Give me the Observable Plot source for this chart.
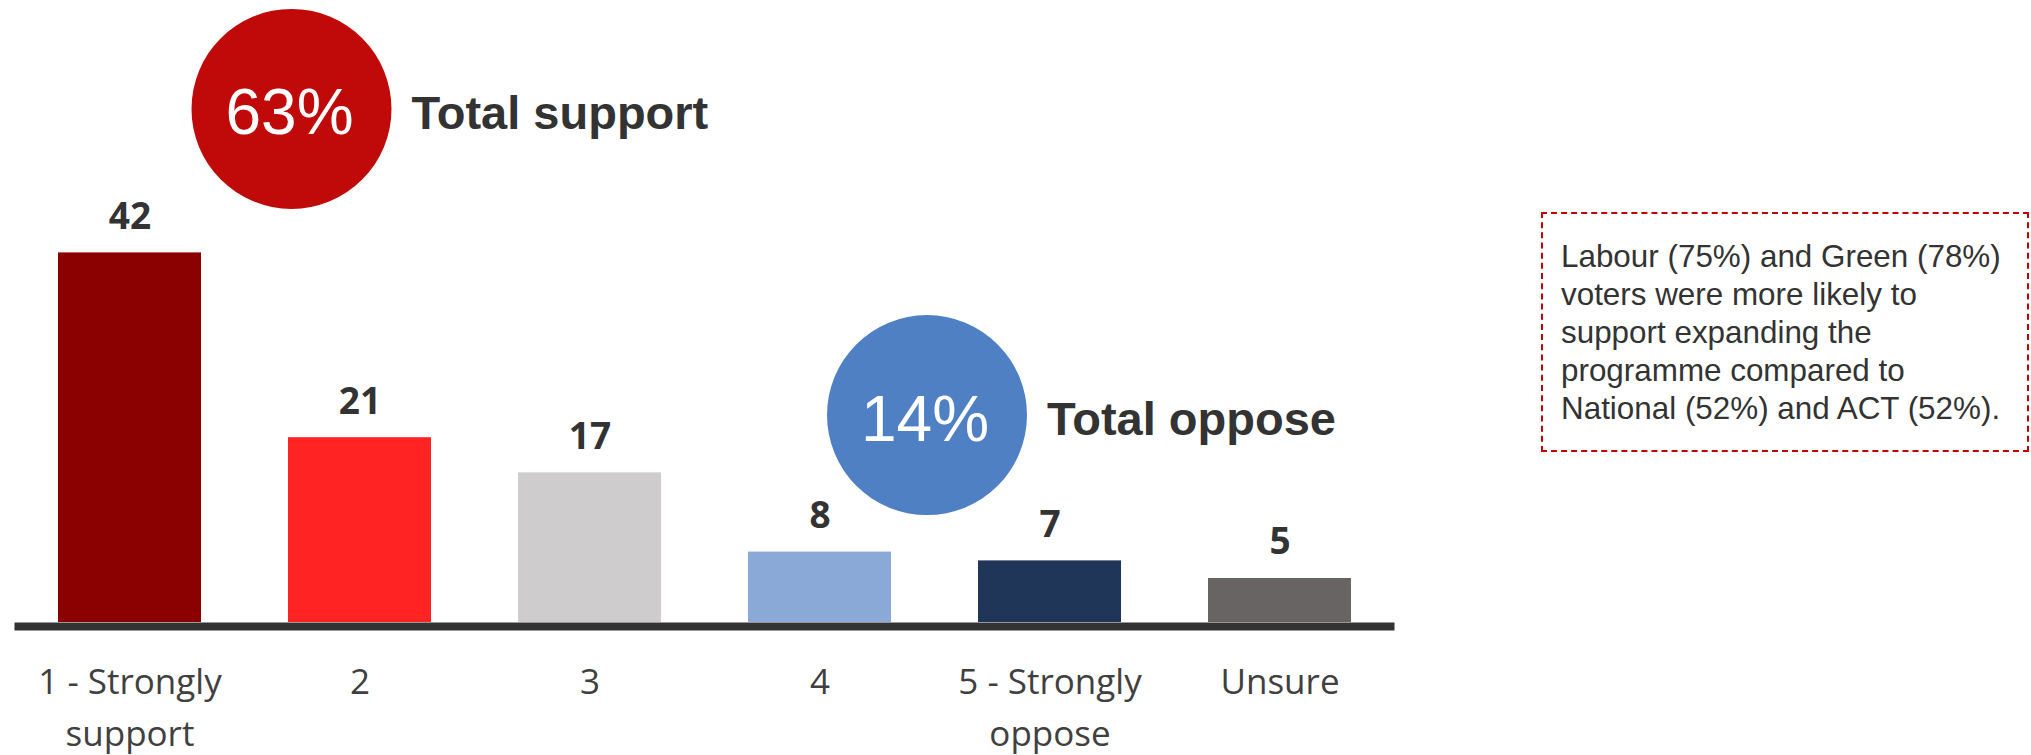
<!DOCTYPE html>
<html>
<head>
<meta charset="utf-8">
<script src="https://cdn.jsdelivr.net/npm/d3@7"></script>
<script src="https://cdn.jsdelivr.net/npm/@observablehq/plot@0.6"></script>
<style>
  html, body { margin: 0; padding: 0; background: #fff; }
  #wrap { position: relative; width: 2031px; height: 755px; overflow: hidden; }
  #note {
    position: absolute; left: 1541px; top: 212px; width: 488px; height: 240px;
    box-sizing: border-box; border: 2px dashed #C00000;
    padding: 24px 0 0 18px;
    font-family: "Liberation Sans", Arial, sans-serif; font-size: 31.4px; line-height: 38px;
    color: #333; white-space: nowrap;
  }
</style>
</head>
<body>
<div id="wrap"><div id="chart"></div><div id="note"></div></div>
<script>
// ---- data ----
const categories = ["1 - Strongly support", "2", "3", "4", "5 - Strongly oppose", "Unsure"];
const tickLabels = ["1 - Strongly\nsupport", "2", "3", "4", "5 - Strongly\noppose", "Unsure"];
const values = [42, 21, 17, 8, 7, 5];
const barColors = ["#8B0000", "#FF2323", "#CECCCD", "#8AA9D7", "#1F3658", "#686463"];

const totalLabels = ["Total support", "Total oppose"];
const totalValues = [63, 14];
const totalAnchors = ["1 - Strongly support", "4"];
const totalColors = ["#C00A0A", "#4F80C4"];

const noteLines = [
  "Labour (75%) and Green (78%)",
  "voters were more likely to",
  "support expanding the",
  "programme compared to",
  "National (52%) and ACT (52%)."
];

// ---- tables ----
const bars = categories.map((c, i) => ({cat: c, value: values[i]}));
const totals = totalLabels.map((l, i) => ({
  label: l, value: totalValues[i], cat: totalAnchors[i],
  anchorValue: values[categories.indexOf(totalAnchors[i])], color: totalColors[i]
}));
// layout offsets (style) for the callouts, relative to the anchor bar's top centre
const offsets = [{dx: 161.5, dy: -144}, {dx: 107, dy: -137}];

const calloutMarks = totals.flatMap((t, i) => {
  const o = offsets[i];
  return [
    Plot.dot([t], {x: "cat", y: "anchorValue", r: 100, fill: "color", stroke: null, dx: o.dx, dy: o.dy}),
    Plot.text([t], {x: "cat", y: "anchorValue", text: d => `${d.value}%`, fill: "white",
      fontSize: 64, fontFamily: "Liberation Sans, Arial, sans-serif", dx: o.dx - 2, dy: o.dy + 5}),
    Plot.text([t], {x: "cat", y: "anchorValue", text: "label", textAnchor: "start", fill: "#333",
      fontSize: 47, fontWeight: "bold", fontFamily: "Liberation Sans, Arial, sans-serif",
      dx: o.dx + 120, dy: o.dy + 5})
  ];
});

const chart = Plot.plot({
  width: 2031,
  height: 755,
  marginLeft: 14.5,
  marginRight: 636.5,
  marginTop: 6,
  marginBottom: 133,
  style: {fontFamily: "Open Sans, sans-serif", background: "white", overflow: "visible"},
  x: {domain: categories, paddingInner: 0.378, paddingOuter: 0.189, label: null},
  y: {domain: [0, 70], axis: null},
  color: {domain: categories, range: barColors},
  marks: [
    Plot.barY(bars, {x: "cat", y: "value", fill: "cat"}),
    Plot.ruleY([0], {stroke: "#333", strokeWidth: 8, dy: 4}),
    Plot.text(bars, {x: "cat", y: "value", text: d => String(d.value), dy: -36,
      fontSize: 37, fontWeight: "bold", fill: "#333", fontFamily: "Open Sans, sans-serif"}),
    Plot.axisX({tickSize: 0, tickPadding: 34, fontSize: 35, fill: "#404040", label: null,
      lineHeight: 1.5, fontFamily: "Open Sans, sans-serif",
      tickFormat: d => tickLabels[categories.indexOf(d)]}),
    ...calloutMarks
  ]
});
document.getElementById("chart").appendChild(chart);
document.getElementById("note").innerHTML = noteLines.join("<br>");
</script>
</body>
</html>
